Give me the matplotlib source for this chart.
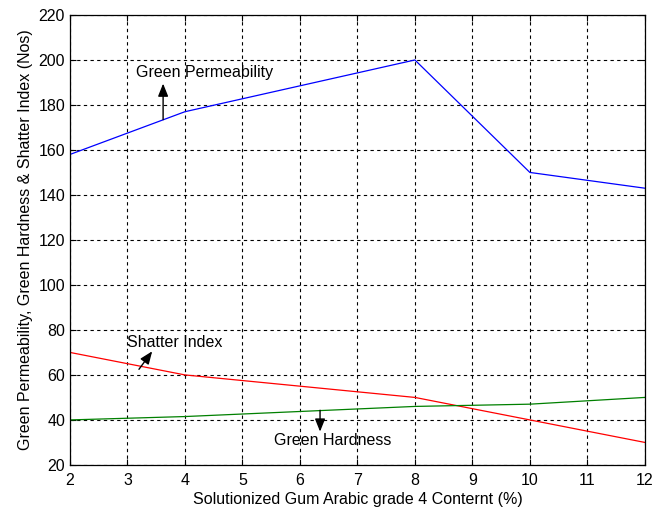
import matplotlib.pyplot as plt

plt.rcParams['font.family'] = ['Liberation Sans', 'DejaVu Sans']

# gum arabic content (%)
content = [2, 4, 8, 10, 12]
permeability = [158, 177, 200, 150, 143]
shatter_index = [70, 60, 50, 40, 30]
hardness = [40, 41.5, 46, 47, 50]

xticks = list(range(2, 13))
yticks = list(range(20, 221, 20))

fig = plt.figure(figsize=(6.54, 5.16), dpi=100)
ax = fig.add_axes([0.107, 0.099, 0.879, 0.872])

ax.plot(content, permeability, color='#0000ff', lw=0.9)
ax.plot(content, shatter_index, color='#ff0000', lw=0.9)
ax.plot(content, hardness, color='#008000', lw=0.9)

ax.set_xlim(2, 12)
ax.set_ylim(20, 220)
ax.set_xticks(xticks)
ax.set_yticks(yticks)
ax.grid(True, color='black', linestyle=(0, (3, 3)), linewidth=0.8)
ax.tick_params(direction='in', top=True, right=True, labelsize=11.5, length=4)
ax.tick_params(axis='x', pad=6)
for s in ax.spines.values():
    s.set_linewidth(0.9)

ax.set_xlabel('Solutionized Gum Arabic grade 4 Conternt (%)', fontsize=11.5, labelpad=3)
ax.set_ylabel('Green Permeability, Green Hardness & Shatter Index (Nos)', fontsize=11.5)

arrow = dict(arrowstyle='-|>,head_length=0.55,head_width=0.22', color='black', lw=1.0,
             mutation_scale=14, shrinkA=0, shrinkB=0)
ax.text(3.15, 194.6, 'Green Permeability', fontsize=11.5, va='center')
ax.annotate('', xy=(3.62, 189.5), xytext=(3.62, 173.5), arrowprops=arrow)
ax.text(3.0, 74.5, 'Shatter Index', fontsize=11.5, va='center')
ax.annotate('', xy=(3.43, 70.5), xytext=(3.2, 62.5), arrowprops=arrow)
ax.text(5.55, 30.7, 'Green Hardness', fontsize=11.5, va='center')
ax.annotate('', xy=(6.35, 34.8), xytext=(6.35, 44.3), arrowprops=arrow)

fig.savefig('out.png', dpi=100)
